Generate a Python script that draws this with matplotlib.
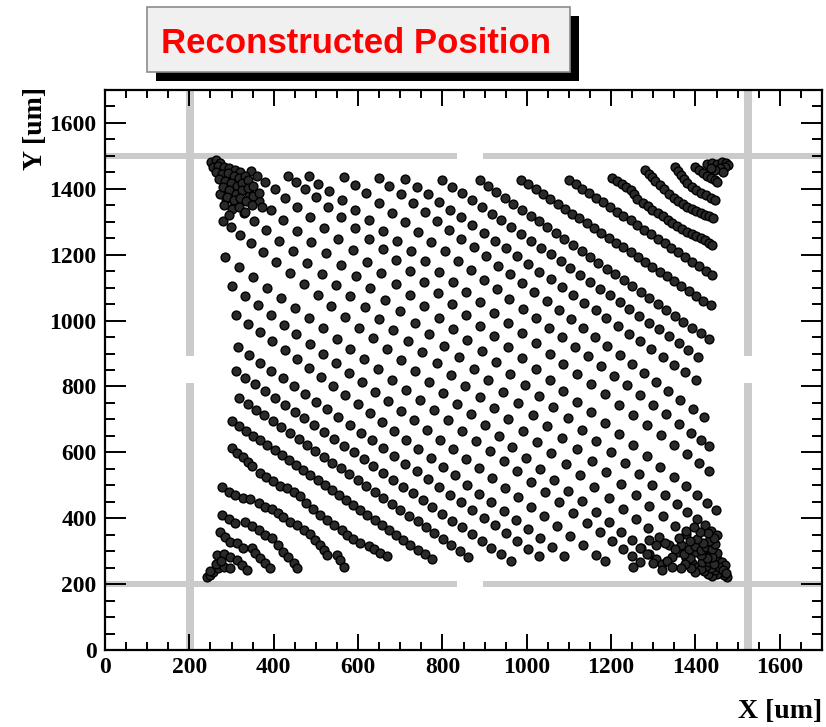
import matplotlib
matplotlib.use("Agg")
import matplotlib.pyplot as plt
from matplotlib.patches import Rectangle
from matplotlib.ticker import MultipleLocator

# ---------------- data (um) ----------------
title = "Reconstructed Position"
x_label = "X [um]"
y_label = "Y [um]"

# grey guide bands: centre, half width, and gap (from, to)
hband_y = [200, 1500]
vband_x = [201, 1524]
band_half = 10
hband_gap = (835, 897)
vband_gap = (812, 892)

# corner arcs, lower-left
corner_ll = [
    (277,496),(293,481),(309,471),(328,461),(344,458),(364,447),(380,435),(396,427),(411,417),(423,403),
    (439,390),(455,380),(471,365),(486,352),(498,334),(510,319),(520,304),(526,289),(550,289),(558,273),(566,253),
    (277,410),(293,397),(309,387),(332,390),(348,375),(364,364),(380,349),(396,339),(411,319),(423,299),
    (435,283),(447,263),(455,248),
    (273,359),(285,344),(297,329),(312,324),(328,309),(348,309),(356,294),(368,278),(380,263),(392,248),
    (265,289),(281,292),(297,283),(312,273),(324,258),(336,243),(241,223),(249,228),(257,238),(269,248),
    (281,253),(297,248),(250,240),(262,262),(275,270),
]

# arcs between lower-left corner and the diagonal
arcs_ll = [
    (300,612),(314,598),(327,585),(340,572),(348,559),(368,537),(382,526),(399,514),(415,498),(431,491),
    (447,481),(463,466),(477,447),(493,427),(509,410),(526,395),(543,380),(562,364),(574,349),(589,337),
    (605,326),(625,316),(637,306),(652,295),(668,284),
    (300,696),(317,681),(334,666),(351,651),(368,636),(385,621),(402,606),(419,591),(436,576),(453,561),
    (470,546),(487,531),(504,516),(521,501),(538,486),(555,471),(571,455),(588,440),(605,425),(622,410),
    (639,395),(656,380),(673,365),(690,350),(707,335),(724,320),(741,305),(758,290),(775,275),
    (318,766),(338,748),(358,730),(378,712),(398,694),(418,676),(438,658),(459,641),(479,623),(499,605),
    (519,587),(539,569),(559,551),(579,533),(600,516),(620,498),(640,480),(660,462),(680,444),(700,426),
    (720,408),(741,391),(761,373),(781,355),(801,337),(821,319),(841,301),(861,283),
    (310,848),(333,827),(356,807),(380,786),(403,765),(426,744),(450,724),(473,703),(496,682),(520,662),
    (543,641),(566,620),(590,600),(613,579),(636,558),(660,538),(683,517),(706,496),(730,476),(753,455),
    (776,434),(800,414),(823,393),(846,372),(870,352),(893,331),(916,310),(940,290),(963,269),
    (315,919),(341,895),(368,872),(394,848),(421,825),(447,801),(474,778),(500,754),(527,731),(553,707),
    (580,684),(606,660),(633,637),(659,613),(686,590),(712,566),(739,543),(765,519),(792,496),(818,472),
    (845,449),(871,425),(898,402),(924,378),(951,355),(977,331),(1004,308),(1030,284),
    (310,1018),(339,991),(368,964),(397,937),(426,910),(455,883),(483,855),(512,828),(541,801),(570,774),
    (599,747),(628,720),(656,692),(685,665),(714,638),(743,611),(772,584),(801,557),(830,530),(858,502),
    (887,475),(916,448),(945,421),(974,394),(1003,367),(1031,339),(1060,312),(1089,285),
    (300,1104),(331,1075),(362,1046),(393,1017),(424,988),(454,958),(485,929),(516,900),(547,871),(578,842),
    (609,813),(640,784),(671,755),(702,726),(733,697),(763,667),(794,638),(825,609),(856,580),(887,551),
    (918,522),(949,493),(980,464),(1011,435),(1042,406),(1072,376),(1103,347),(1134,318),(1165,289),(1186,270),
    (285,1193),(318,1162),(351,1131),(384,1100),(417,1069),(450,1038),(483,1007),(516,976),(549,945),(582,914),
    (615,883),(648,852),(681,821),(714,790),(747,759),(780,728),(813,697),(846,666),(879,635),(912,604),
    (945,573),(978,542),(1011,511),(1043,479),(1076,448),(1109,417),(1142,386),(1173,357),(1202,330),
    (1227,307),(1249,285),(1268,268),
    (280,1302),(299,1283),(321,1261),(346,1236),(374,1208),(405,1177),(438,1144),(471,1111),(504,1078),
    (537,1045),(570,1012),(603,979),(636,946),(669,913),(702,880),(735,847),(768,814),(801,781),(834,748),
    (867,715),(900,682),(933,649),(966,616),(999,583),(1032,550),(1065,517),(1098,484),(1131,451),(1163,419),
    (1194,388),(1223,359),(1249,333),(1272,310),(1291,291),(1307,275),(1321,261),
    (272,1384),(288,1368),(307,1349),(329,1327),(354,1302),(382,1274),(413,1243),(446,1210),(480,1176),
    (514,1142),(548,1108),(582,1074),(616,1040),(650,1006),(684,972),(718,938),(752,904),(786,870),(820,836),
    (854,802),(888,768),(922,734),(956,700),(990,666),(1024,632),(1058,598),(1092,564),(1126,530),(1160,496),
    (1194,462),(1227,429),(1258,398),(1287,369),(1314,342),(1338,318),(1359,297),(1377,279),(1392,264),(1404,252),
]

# the arc along the anti-diagonal
arc_diag = [
    (258,1470),(266,1462),(276,1452),(288,1440),(303,1425),(321,1407),(342,1386),(366,1362),(393,1335),
    (423,1305),(455,1273),(489,1239),(524,1204),(559,1169),(594,1134),(629,1099),(664,1064),(699,1029),
    (734,994),(769,959),(804,924),(839,889),(874,854),(909,819),(944,784),(979,749),(1014,714),(1049,679),
    (1084,644),(1119,609),(1154,574),(1189,539),(1224,504),(1258,470),(1291,437),(1322,406),(1351,377),
    (1377,351),(1400,328),(1420,308),(1437,291),(1451,277),(1462,266),(1470,258),
]

# arcs between the diagonal and the upper-right corner
arcs_ur = [
    (345,1455),(361,1439),(380,1420),(402,1398),(427,1373),(455,1345),(486,1314),(519,1281),(553,1247),
    (587,1213),(621,1179),(655,1145),(689,1111),(723,1077),(757,1043),(791,1009),(825,975),(859,941),
    (893,907),(927,873),(961,839),(995,805),(1029,771),(1063,737),(1097,703),(1131,669),(1165,635),
    (1199,601),(1233,567),(1266,534),(1298,502),(1328,472),(1356,444),(1381,419),(1403,397),(1422,378),
    (1438,362),(1450,350),
    (434,1440),(453,1421),(475,1399),(500,1374),(528,1346),(559,1315),(592,1282),(625,1249),(658,1216),
    (691,1183),(724,1150),(757,1117),(790,1084),(823,1051),(856,1018),(889,985),(922,952),(955,919),
    (988,886),(1021,853),(1054,820),(1087,787),(1120,754),(1153,721),(1186,688),(1219,655),(1252,622),
    (1285,589),(1317,557),(1348,526),(1377,497),(1403,471),(1427,447),(1448,426),
    (484,1438),(506,1416),(532,1392),(561,1365),(593,1335),(626,1304),(659,1273),(692,1242),(725,1211),
    (758,1180),(791,1149),(824,1118),(857,1087),(890,1056),(922,1024),(955,993),(988,962),(1021,931),
    (1054,900),(1087,869),(1120,838),(1153,807),(1186,776),(1219,745),(1252,714),(1285,683),(1318,652),
    (1350,622),(1380,594),(1408,568),(1433,543),
    (567,1435),(592,1412),(620,1386),(650,1356),(681,1327),(712,1298),(743,1269),(774,1240),(805,1211),
    (836,1182),(867,1153),(898,1124),(929,1095),(959,1065),(990,1036),(1021,1007),(1052,978),(1083,949),
    (1114,920),(1145,891),(1176,862),(1207,833),(1238,803),(1268,774),(1299,745),(1330,716),(1361,687),
    (1390,660),(1414,638),(1432,620),
    (650,1432),(674,1410),(701,1385),(730,1358),(758,1330),(787,1303),(816,1276),(845,1249),(874,1222),
    (903,1195),(931,1167),(960,1140),(989,1113),(1018,1086),(1047,1059),(1076,1032),(1105,1005),(1133,977),
    (1162,950),(1191,923),(1220,896),(1249,869),(1278,842),(1306,814),(1335,787),(1364,760),(1393,733),(1420,708),
    (712,1430),(739,1407),(765,1383),(792,1360),(818,1336),(845,1313),(871,1289),(898,1266),(924,1242),
    (951,1219),(977,1195),(1004,1172),(1030,1148),(1057,1125),(1083,1101),(1110,1078),(1136,1054),(1163,1031),
    (1189,1007),(1216,984),(1242,960),(1269,937),(1295,913),(1322,890),(1348,866),(1375,843),(1401,819),
    (800,1428),(823,1407),(847,1387),(870,1366),(893,1345),(917,1325),(940,1304),(963,1283),(987,1263),
    (1010,1242),(1033,1221),(1057,1201),(1080,1180),(1103,1159),(1127,1139),(1150,1118),(1173,1097),
    (1197,1077),(1220,1056),(1243,1035),(1267,1015),(1290,994),(1313,973),(1337,953),(1360,932),(1383,911),(1406,890),
    (888,1426),(908,1408),(928,1390),(948,1372),(968,1354),(989,1337),(1009,1319),(1029,1301),(1049,1283),
    (1069,1265),(1089,1247),(1109,1229),(1130,1212),(1150,1194),(1170,1176),(1190,1158),(1210,1140),
    (1230,1122),(1250,1104),(1271,1087),(1291,1069),(1311,1051),(1331,1033),(1351,1015),(1371,997),
    (1391,979),(1412,962),(1432,944),
    (986,1428),(1004,1414),(1021,1399),(1038,1384),(1055,1369),(1073,1355),(1090,1340),(1107,1325),
    (1125,1311),(1142,1296),(1159,1281),(1176,1266),(1194,1252),(1211,1237),(1228,1222),(1246,1208),
    (1263,1193),(1280,1178),(1297,1163),(1315,1149),(1332,1134),(1349,1119),(1366,1104),(1384,1090),
    (1401,1075),(1418,1060),(1436,1046),
    (1100,1428),(1116,1414),(1132,1400),(1148,1386),(1165,1373),(1181,1359),(1197,1345),(1213,1331),
    (1229,1317),(1246,1304),(1262,1290),(1278,1276),(1294,1262),(1310,1248),(1327,1235),(1343,1221),
    (1359,1207),(1375,1193),(1391,1179),(1408,1166),(1424,1152),(1439,1139),
]

# corner arcs, upper-right
corner_ur = [
    (1203,1433),(1214,1424),(1225,1414),(1236,1405),(1246,1396),(1254,1383),(1262,1370),(1276,1357),
    (1287,1347),(1298,1337),(1310,1327),(1322,1317),(1334,1306),(1345,1296),(1357,1287),(1369,1278),
    (1381,1269),(1392,1263),(1402,1257),(1412,1251),(1422,1244),(1431,1237),(1440,1230),
    (1281,1457),(1289,1446),(1297,1435),(1305,1424),(1317,1412),(1326,1398),(1337,1385),(1348,1372),
    (1359,1363),(1370,1354),(1381,1345),(1391,1339),(1402,1333),(1412,1327),(1422,1321),(1432,1316),(1442,1311),
    (1352,1466),(1358,1454),(1365,1441),(1373,1429),(1381,1418),(1391,1407),(1401,1397),(1412,1387),
    (1424,1380),(1436,1373),(1447,1366),
    (1400,1466),(1408,1456),(1417,1447),(1427,1439),(1437,1432),(1446,1426),(1452,1421),
    (1428,1475),(1440,1478),(1452,1476),(1463,1480),(1472,1478),(1478,1472),(1470,1466),(1458,1462),
    (1446,1458),(1436,1463),(1466,1452),
]

# dense cluster, upper-left corner
cluster_ul = [
    (252,1482),(262,1486),(272,1478),(255,1465),(268,1470),(282,1466),(295,1462),(308,1458),(320,1452),
    (262,1450),(278,1444),(292,1448),(305,1440),(318,1432),(332,1440),(270,1430),(285,1425),(298,1418),
    (312,1410),(326,1418),(340,1426),(280,1405),(295,1395),(310,1385),(325,1395),(338,1404),(352,1410),
    (290,1375),(305,1365),(320,1372),(335,1362),(350,1378),(365,1388),(300,1340),(318,1345),(348,1350),
    (372,1345),(282,1352),(295,1322),(332,1330),
]

# dense cluster, lower-right corner
cluster_lr = [
    (1475,221),(1467,228),(1459,236),(1450,230),(1440,226),(1430,232),(1420,240),(1446,244),(1456,252),
    (1466,242),(1472,234),(1436,250),(1425,256),(1412,246),(1400,238),(1390,250),(1416,266),(1432,266),
    (1444,262),(1452,294),(1440,282),(1428,280),(1414,288),(1400,296),(1388,278),(1376,262),(1365,250),
    (1372,290),(1384,306),(1398,316),(1412,304),(1426,314),(1440,306),(1447,322),(1433,330),(1418,326),
    (1404,338),(1386,330),(1366,318),(1352,306),(1345,282),(1332,270),(1345,252),(1320,244),(1300,264),
    (1286,290),(1306,318),(1328,326),(1290,334),(1268,310),(1253,252),(1362,340),(1378,360),(1445,340),
    (1430,356),(1410,358),(1396,372),
]

# ---------------- figure ----------------
W, H = 826, 727
fig = plt.figure(figsize=(W / 100, H / 100), dpi=100)
ax = fig.add_axes([105 / W, 1 - 650 / H, 717 / W, 560 / H])
ax.set_xlim(0, 1700)
ax.set_ylim(0, 1700)

band_col = "#cbcbcb"
for yc in hband_y:
    ax.add_patch(Rectangle((0, yc - band_half), hband_gap[0], 2 * band_half,
                           facecolor=band_col, edgecolor="none", zorder=1))
    ax.add_patch(Rectangle((hband_gap[1], yc - band_half), 1700 - hband_gap[1], 2 * band_half,
                           facecolor=band_col, edgecolor="none", zorder=1))
for xc in vband_x:
    ax.add_patch(Rectangle((xc - band_half, 0), 2 * band_half, vband_gap[0],
                           facecolor=band_col, edgecolor="none", zorder=1))
    ax.add_patch(Rectangle((xc - band_half, vband_gap[1]), 2 * band_half, 1700 - vband_gap[1],
                           facecolor=band_col, edgecolor="none", zorder=1))

pts = corner_ll + arcs_ll + arc_diag + arcs_ur + corner_ur + cluster_ul + cluster_lr
xs = [p[0] for p in pts]
ys = [p[1] for p in pts]
ax.scatter(xs, ys, s=40, c="#2a2a2a", edgecolors="black", linewidths=1.0, zorder=3)

for sp in ax.spines.values():
    sp.set_linewidth(1.6)
    sp.set_zorder(4)

ax.xaxis.set_major_locator(MultipleLocator(200))
ax.xaxis.set_minor_locator(MultipleLocator(50))
ax.yaxis.set_major_locator(MultipleLocator(200))
ax.yaxis.set_minor_locator(MultipleLocator(50))
ax.tick_params(which="both", direction="in", top=True, right=True, width=1.4)
ax.tick_params(axis="x", which="major", length=11.5, pad=5)
ax.tick_params(axis="x", which="minor", length=5.8)
ax.tick_params(axis="y", which="major", length=15, pad=6)
ax.tick_params(axis="y", which="minor", length=7.5)
for lab in ax.get_xticklabels() + ax.get_yticklabels():
    lab.set_fontfamily("Liberation Serif")
    lab.set_fontweight("bold")
    lab.set_fontsize(17)

fig.text(822 / W, 1 - 711 / H, x_label, ha="right", va="center",
         fontsize=20, fontfamily="Liberation Serif", fontweight="bold")
fig.text(36 / W, 1 - 87 / H, y_label, ha="center", va="top", rotation=90,
         fontsize=20, fontfamily="Liberation Serif", fontweight="bold")

# title box with shadow
fig.patches.append(Rectangle((156 / W, 1 - 81 / H), 423 / W, 65 / H,
                             transform=fig.transFigure, facecolor="black", edgecolor="none"))
fig.patches.append(Rectangle((147 / W, 1 - 72 / H), 423 / W, 65 / H,
                             transform=fig.transFigure, facecolor="#f0f0f0",
                             edgecolor="#8c8c8c", linewidth=1.2))
fig.text(356 / W, 1 - 53 / H, title, ha="center", va="baseline", color="#ff0000",
         fontsize=25, fontfamily="Liberation Sans", fontweight="bold")

fig.savefig("out.png", dpi=100)
